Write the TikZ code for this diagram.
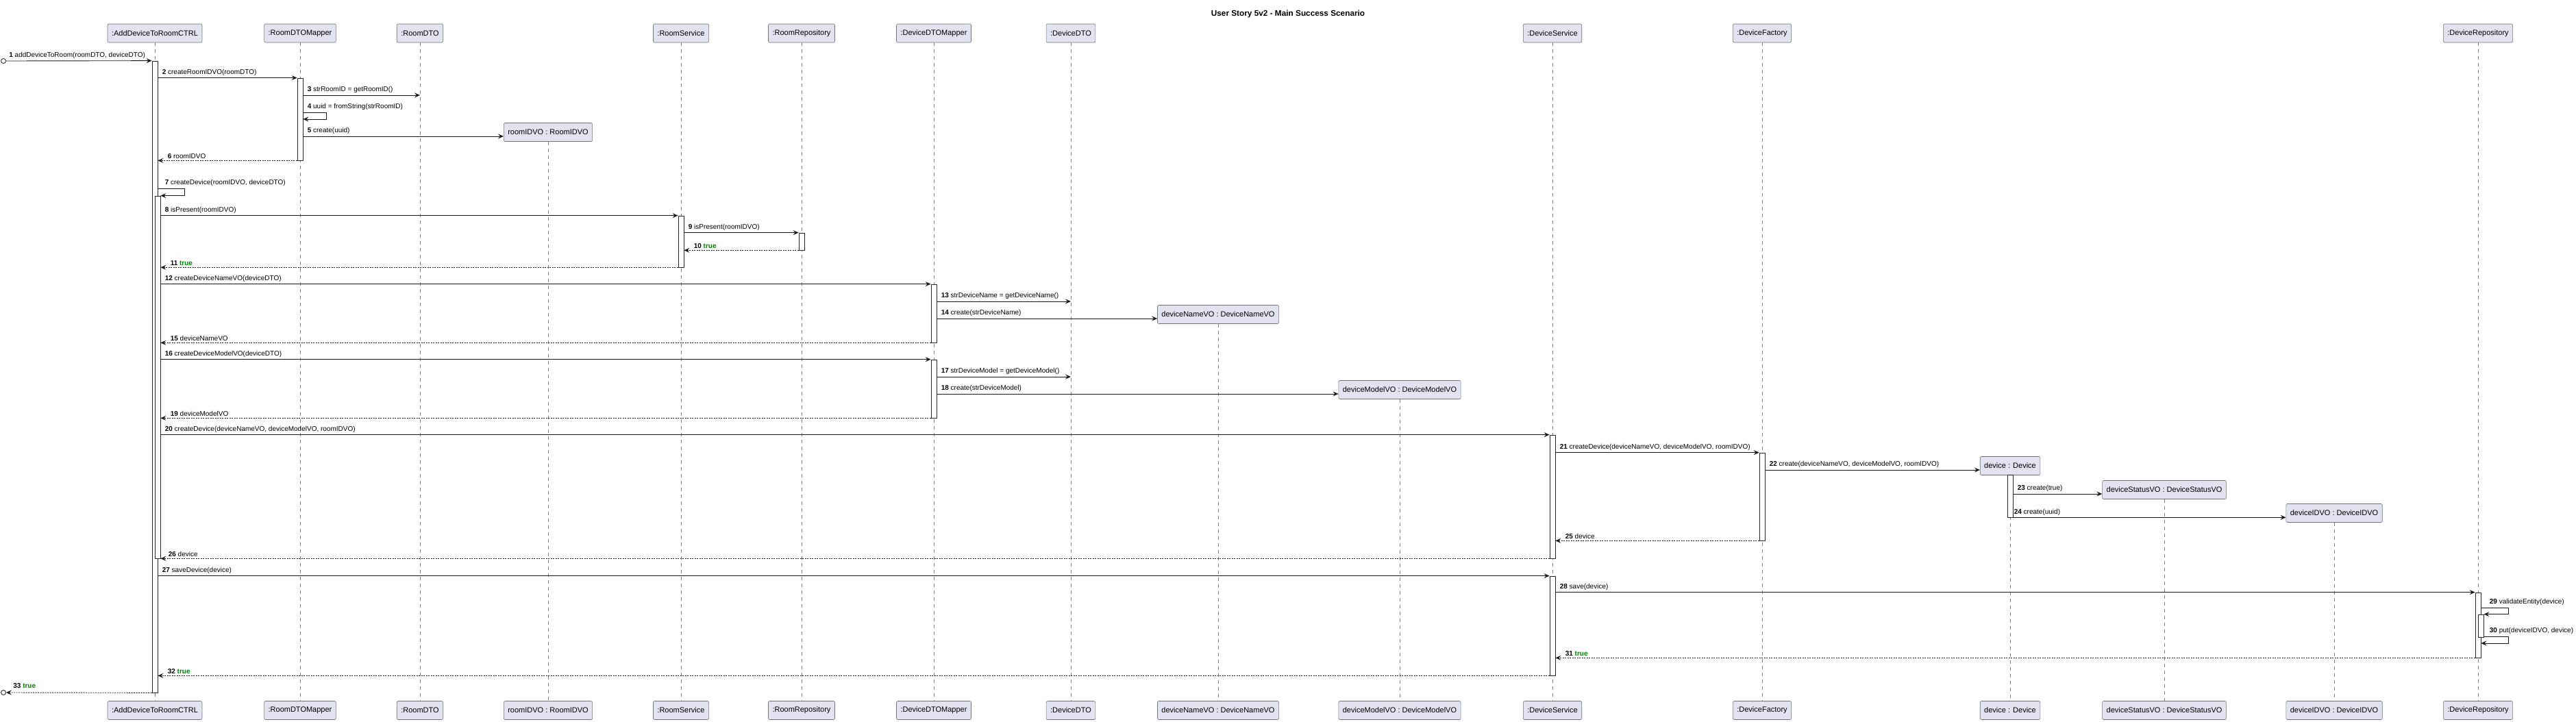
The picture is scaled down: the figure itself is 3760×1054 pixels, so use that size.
\documentclass[tikz,border=0pt]{standalone}
\usepackage{fontspec}
\setmainfont{Liberation Sans}
\usetikzlibrary{arrows.meta,calc}
\definecolor{partfill}{HTML}{E2E2F0}
\definecolor{truegreen}{HTML}{008000}
\newcommand{\trueval}{\textcolor{truegreen}{\textbf{true}}}

\begin{document}
\begin{tikzpicture}[x=1pt, y=-1pt,
    participant/.style={rectangle, draw=black!55, line width=0.6pt, fill=partfill, rounded corners=2pt, minimum height=27pt, inner xsep=6pt, font=\fontsize{11}{13}\selectfont},
    actbar/.style={rectangle, draw=black!85, line width=0.7pt, fill=white, minimum width=8pt, inner sep=0pt},
    gate/.style={circle, draw=black!90, line width=0.8pt, fill=white, minimum size=7pt, inner sep=0pt},
    lifeline/.style={draw=black!50, line width=0.5pt, dash pattern=on 5pt off 5pt},
    msg/.style={draw=black!90, line width=0.9pt, -{Stealth[length=8pt, width=7pt, inset=3pt]}},
    reply/.style={msg, dash pattern=on 2pt off 1.5pt},
    lbl/.style={anchor=south west, inner sep=0pt, yshift=2.5pt, font=\fontsize{10}{12}\selectfont},
    callLbl/.style={lbl, pos=0, xshift=6pt},
    replyLbl/.style={lbl, pos=1, xshift=14pt}]
    \useasboundingbox (0,0) rectangle (3760,1054);

    \node[font=\bfseries\fontsize{11.8}{14}\selectfont] (title) at (1880,20) {User Story 5v2 - Main Success Scenario};

    % participants, top row
    \node[participant] (pCtrl) at (226,48.5) {:AddDeviceToRoomCTRL};
    \node[participant] (pRdm) at (438,48.5) {:RoomDTOMapper};
    \node[participant] (pRdto) at (613,48.5) {:RoomDTO};
    \node[participant] (pRidvo) at (800,193) {roomIDVO : RoomIDVO};
    \node[participant] (pRs) at (994,48.5) {:RoomService};
    \node[participant] (pRr) at (1170,48.5) {:RoomRepository};
    \node[participant] (pDdm) at (1363,48.5) {:DeviceDTOMapper};
    \node[participant] (pDdto) at (1563,48.5) {:DeviceDTO};
    \node[participant] (pDnvo) at (1778,459) {deviceNameVO : DeviceNameVO};
    \node[participant] (pDmvo) at (2043,569) {deviceModelVO : DeviceModelVO};
    \node[participant] (pDs) at (2266,48.5) {:DeviceService};
    \node[participant] (pDf) at (2572,48.5) {:DeviceFactory};
    \node[participant] (pDev) at (2934,680) {device : Device};
    \node[participant] (pDsvo) at (3159,715) {deviceStatusVO : DeviceStatusVO};
    \node[participant] (pDidvo) at (3407,749) {deviceIDVO : DeviceIDVO};
    \node[participant] (pDr) at (3617,48.5) {:DeviceRepository};

    % participants, bottom row
    \node[participant] (qCtrl) at (226,1037) {:AddDeviceToRoomCTRL};
    \node[participant] (qRdm) at (438,1037) {:RoomDTOMapper};
    \node[participant] (qRdto) at (613,1037) {:RoomDTO};
    \node[participant] (qRidvo) at (800,1037) {roomIDVO : RoomIDVO};
    \node[participant] (qRs) at (994,1037) {:RoomService};
    \node[participant] (qRr) at (1170,1037) {:RoomRepository};
    \node[participant] (qDdm) at (1363,1037) {:DeviceDTOMapper};
    \node[participant] (qDdto) at (1563,1037) {:DeviceDTO};
    \node[participant] (qDnvo) at (1778,1037) {deviceNameVO : DeviceNameVO};
    \node[participant] (qDmvo) at (2043,1037) {deviceModelVO : DeviceModelVO};
    \node[participant] (qDs) at (2266,1037) {:DeviceService};
    \node[participant] (qDf) at (2572,1037) {:DeviceFactory};
    \node[participant] (qDev) at (2934,1037) {device : Device};
    \node[participant] (qDsvo) at (3159,1037) {deviceStatusVO : DeviceStatusVO};
    \node[participant] (qDidvo) at (3407,1037) {deviceIDVO : DeviceIDVO};
    \node[participant] (qDr) at (3617,1037) {:DeviceRepository};

    % lifelines
    \draw[lifeline] (pCtrl) -- (qCtrl);
    \draw[lifeline] (pRdm) -- (qRdm);
    \draw[lifeline] (pRdto) -- (qRdto);
    \draw[lifeline] (pRidvo) -- (qRidvo);
    \draw[lifeline] (pRs) -- (qRs);
    \draw[lifeline] (pRr) -- (qRr);
    \draw[lifeline] (pDdm) -- (qDdm);
    \draw[lifeline] (pDdto) -- (qDdto);
    \draw[lifeline] (pDnvo) -- (qDnvo);
    \draw[lifeline] (pDmvo) -- (qDmvo);
    \draw[lifeline] (pDs) -- (qDs);
    \draw[lifeline] (pDf) -- (qDf);
    \draw[lifeline] (pDev) -- (qDev);
    \draw[lifeline] (pDsvo) -- (qDsvo);
    \draw[lifeline] (pDidvo) -- (qDidvo);
    \draw[lifeline] (pDr) -- (qDr);

    % activation bars
    \node[actbar, minimum height=922pt] (aCtrl) at (226,550) {};
    \node[actbar, minimum height=529pt] (aCtrl2) at (230,550.5) {};
    \node[actbar, minimum height=120pt] (aRdm) at (438,174) {};
    \node[actbar, minimum height=75pt] (aRs) at (994,352.5) {};
    \node[actbar, minimum height=25pt] (aRr) at (1170,352.5) {};
    \node[actbar, minimum height=85pt] (aDdm1) at (1363,457.5) {};
    \node[actbar, minimum height=85pt] (aDdm2) at (1363,567.5) {};
    \node[actbar, minimum height=180pt] (aDs1) at (2266,725) {};
    \node[actbar, minimum height=145pt] (aDs2) at (2266,913.5) {};
    \node[actbar, minimum height=128pt] (aDf) at (2572,725) {};
    \node[actbar, minimum height=62pt] (aDev) at (2934,724) {};
    \node[actbar, minimum height=95pt] (aDr) at (3617,912.5) {};
    \node[actbar, minimum height=33pt] (aDr2) at (3621,913.5) {};

    \node[gate] (gateIn) at (5,89) {};
    \node[gate] (gateOut) at (5,1011) {};

    % room id
    \draw[msg] (gateIn.east) -- node[callLbl, xshift=-2pt]{\textbf{1} addDeviceToRoom(roomDTO, deviceDTO)} (aCtrl.north west);
    \draw[msg] (aCtrl.east |- aRdm.north) -- node[callLbl]{\textbf{2} createRoomIDVO(roomDTO)} (aRdm.north west);
    \draw[msg] (aRdm.east |- 0,139) -- node[callLbl]{\textbf{3} strRoomID = getRoomID()} (pRdto |- 0,139);
    \draw[msg] (aRdm.east |- 0,164) -- node[callLbl]{\textbf{4} uuid = fromString(strRoomID)} ++(34,0) |- (aRdm.east |- 0,174);
    \draw[msg] (aRdm.east |- 0,199) -- node[callLbl]{\textbf{5} create(uuid)} (pRidvo.west |- 0,199);
    \draw[reply] (aRdm.south west) -- node[replyLbl]{\textbf{6} roomIDVO} (aCtrl.east |- aRdm.south);
    \draw[msg] (aCtrl.east |- 0,275) -- node[callLbl, xshift=4pt]{\textbf{7} createDevice(roomIDVO, deviceDTO)} ++(39,0) |- (aCtrl2.north east);

    % room check
    \draw[msg] (aCtrl2.east |- aRs.north) -- node[callLbl]{\textbf{8} isPresent(roomIDVO)} (aRs.north west);
    \draw[msg] (aRs.east |- aRr.north) -- node[callLbl]{\textbf{9} isPresent(roomIDVO)} (aRr.north west);
    \draw[reply] (aRr.south west) -- node[replyLbl]{\textbf{10} \trueval} (aRs.east |- aRr.south);
    \draw[reply] (aRs.south west) -- node[replyLbl]{\textbf{11} \trueval} (aCtrl2.east |- aRs.south);

    % value objects
    \draw[msg] (aCtrl2.east |- aDdm1.north) -- node[callLbl]{\textbf{12} createDeviceNameVO(deviceDTO)} (aDdm1.north west);
    \draw[msg] (aDdm1.east |- 0,440) -- node[callLbl]{\textbf{13} strDeviceName = getDeviceName()} (pDdto |- 0,440);
    \draw[msg] (aDdm1.east |- 0,465) -- node[callLbl]{\textbf{14} create(strDeviceName)} (pDnvo.west |- 0,465);
    \draw[reply] (aDdm1.south west) -- node[replyLbl]{\textbf{15} deviceNameVO} (aCtrl2.east |- aDdm1.south);
    \draw[msg] (aCtrl2.east |- aDdm2.north) -- node[callLbl]{\textbf{16} createDeviceModelVO(deviceDTO)} (aDdm2.north west);
    \draw[msg] (aDdm2.east |- 0,550) -- node[callLbl]{\textbf{17} strDeviceModel = getDeviceModel()} (pDdto |- 0,550);
    \draw[msg] (aDdm2.east |- 0,575) -- node[callLbl]{\textbf{18} create(strDeviceModel)} (pDmvo.west |- 0,575);
    \draw[reply] (aDdm2.south west) -- node[replyLbl]{\textbf{19} deviceModelVO} (aCtrl2.east |- aDdm2.south);

    % device creation
    \draw[msg] (aCtrl2.east |- aDs1.north) -- node[callLbl]{\textbf{20} createDevice(deviceNameVO, deviceModelVO, roomIDVO)} (aDs1.north west);
    \draw[msg] (aDs1.east |- aDf.north) -- node[callLbl]{\textbf{21} createDevice(deviceNameVO, deviceModelVO, roomIDVO)} (aDf.north west);
    \draw[msg] (aDf.east |- 0,686) -- node[callLbl]{\textbf{22} create(deviceNameVO, deviceModelVO, roomIDVO)} (pDev.west |- 0,686);
    \draw[msg] (aDev.east |- 0,721) -- node[callLbl]{\textbf{23} create(true)} (pDsvo.west |- 0,721);
    \draw[msg] (aDev.south east) -- node[callLbl, xshift=-5pt]{\textbf{24} create(uuid)} (pDidvo.west |- aDev.south);
    \draw[reply] (aDf.south west) -- node[replyLbl]{\textbf{25} device} (aDs1.east |- aDf.south);
    \draw[reply] (aDs1.south west) -- node[replyLbl, xshift=-3pt]{\textbf{26} device} (aCtrl2.south east);

    % saving
    \draw[msg] (aCtrl.east |- aDs2.north) -- node[callLbl]{\textbf{27} saveDevice(device)} (aDs2.north west);
    \draw[msg] (aDs2.east |- aDr.north) -- node[callLbl]{\textbf{28} save(device)} (aDr.north west);
    \draw[msg] (aDr.east |- 0,887) -- node[callLbl, xshift=6pt]{\textbf{29} validateEntity(device)} ++(40,0) |- (aDr2.north east);
    \draw[msg] (aDr2.east |- 0,929) -- node[callLbl, xshift=2pt]{\textbf{30} put(deviceIDVO, device)} ++(36,0) |- (aDr.east |- 0,939);
    \draw[reply] (aDr.south west) -- node[replyLbl]{\textbf{31} \trueval} (aDs2.east |- aDr.south);
    \draw[reply] (aDs2.south west) -- node[replyLbl]{\textbf{32} \trueval} (aCtrl.east |- aDs2.south);
    \draw[reply] (aCtrl.south west) -- node[replyLbl, xshift=-4pt, yshift=3pt]{\textbf{33} \trueval} (gateOut.east);
\end{tikzpicture}
\end{document}
